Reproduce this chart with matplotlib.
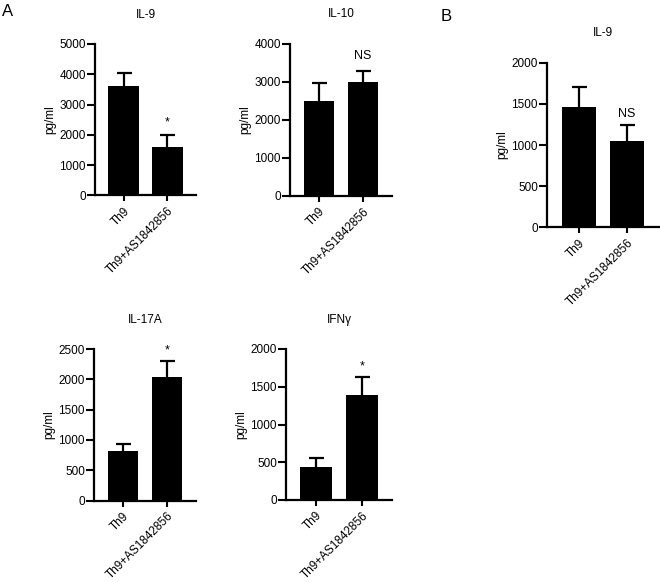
import matplotlib
matplotlib.use("Agg")
import matplotlib.pyplot as plt

plt.rcParams['font.family'] = ['Liberation Sans', 'DejaVu Sans']

groups = ["Th9", "Th9+AS1842856"]

il9a_mean = [3610, 1610]
il9a_err = [447, 402]
il9a_marks = ["", "*"]

il10_mean = [2490, 2995]
il10_err = [478, 280]
il10_marks = ["", "NS"]

il17_mean = [824, 2034]
il17_err = [110, 268]
il17_marks = ["", "*"]

ifng_mean = [441, 1391]
ifng_err = [119, 242]
ifng_marks = ["", "*"]

il9b_mean = [1457, 1050]
il9b_err = [243, 197]
il9b_marks = ["", "NS"]

W, H = 660, 582
fig = plt.figure(figsize=(W / 100, H / 100), dpi=100)

FS = 8.5


def px_axes(left, right, top, bottom):
    return fig.add_axes([left / W, 1 - bottom / H, (right - left) / W, (bottom - top) / H])


def panel(rect, title, means, errs, marks, ymax, ystep, mark_off):
    ax = px_axes(*rect)
    x = list(range(len(groups)))
    ax.bar(x, means, width=0.7, color='black', edgecolor='none', linewidth=0, zorder=2)
    _, caps, _ = ax.errorbar(x, means, yerr=[[0] * len(errs), errs], fmt='none', ecolor='black',
                             elinewidth=1.6, capsize=5.4, capthick=1.6, zorder=3)
    if len(caps) == 2:
        caps[0].set_visible(False)
    for xi, m, e, t in zip(x, means, errs, marks):
        if t:
            ax.annotate(t, (xi, m + e), xytext=(0, mark_off),
                        textcoords='offset points', ha='center', va='baseline', fontsize=9)
    ax.set_xlim(-0.66, 1.66)
    ax.set_ylim(0, ymax)
    ax.set_yticks(list(range(0, ymax + 1, ystep)))
    ax.set_xticks(x)
    ax.set_xticklabels(groups, rotation=45, ha='right', va='top', rotation_mode='anchor', fontsize=FS)
    ax.tick_params(axis='y', direction='out', length=5.5, width=1.5, pad=1, labelsize=FS)
    ax.tick_params(axis='x', direction='out', length=4, width=1.5, pad=3)
    for s in ['top', 'right']:
        ax.spines[s].set_visible(False)
    for s in ['left', 'bottom']:
        ax.spines[s].set_linewidth(1.6)
    ax.set_ylabel("pg/ml", fontsize=FS, labelpad=2)
    ax.set_title(title, fontsize=FS, pad=19)
    return ax


panel((95, 196, 44, 195.5), "IL-9", il9a_mean, il9a_err, il9a_marks, 5000, 1000, 6.5)
panel((290, 392, 43.5, 196), "IL-10", il10_mean, il10_err, il10_marks, 4000, 1000, 9)
panel((94, 196, 349, 500.5), "IL-17A", il17_mean, il17_err, il17_marks, 2500, 500, 5.5)
panel((286, 392, 349, 500), "IFN\u03b3", ifng_mean, ifng_err, ifng_marks, 2000, 500, 5.5)
panel((547, 659, 62.5, 227.5), "IL-9", il9b_mean, il9b_err, il9b_marks, 2000, 500, 5.3)

fig.text(2 / W, 1 - 16 / H, "A", fontsize=12, ha='left', va='baseline')
fig.text(441 / W, 1 - 21 / H, "B", fontsize=12, ha='left', va='baseline')

fig.savefig("out.png", dpi=100)
